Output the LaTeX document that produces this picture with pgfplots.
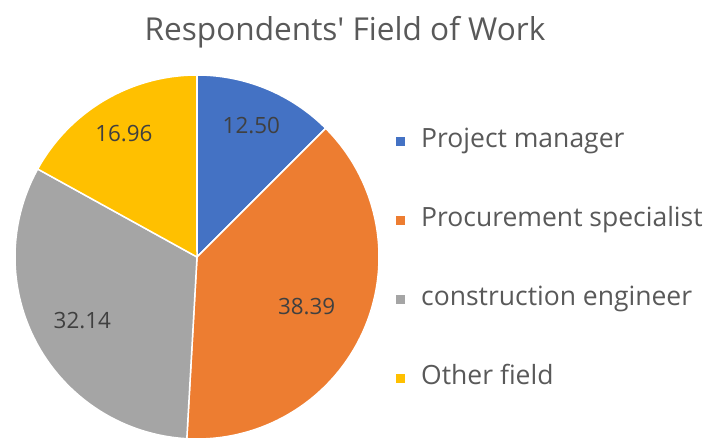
\documentclass[border=0pt]{standalone}
\usepackage{pgfplots}
\usepackage{pgfplotstable}
\pgfplotsset{compat=1.18}
\usepackage{fontspec}
\setmainfont{Open Sans}
\definecolor{cBlue}{HTML}{4472C4}
\definecolor{cOrange}{HTML}{ED7D31}
\definecolor{cGray}{HTML}{A5A5A5}
\definecolor{cYellow}{HTML}{FFC000}
\definecolor{cText}{HTML}{595959}
\definecolor{cLabel}{HTML}{404040}

% share (%) of each field, clockwise from 12 o'clock; lr = label radius (fraction of pie radius)
\pgfplotstableread{
idx value lr
0 12.50 0.78
1 38.39 0.66
2 32.14 0.72
3 16.96 0.79
}\pietable

\newcommand\getv[3]{\pgfplotstablegetelem{#1}{#2}\of\pietable\global\let#3\pgfplotsretval}
\getv{0}{value}\vA \getv{1}{value}\vB \getv{2}{value}\vC \getv{3}{value}\vD
\getv{0}{lr}\rA \getv{1}{lr}\rB \getv{2}{lr}\rC \getv{3}{lr}\rD
\pgfmathsetmacro\aA{90}
\pgfmathsetmacro\aB{\aA-3.6*\vA}
\pgfmathsetmacro\aC{\aB-3.6*\vB}
\pgfmathsetmacro\aD{\aC-3.6*\vC}
\pgfmathsetmacro\aE{\aD-3.6*\vD}
\pgfmathsetmacro\mA{(\aA+\aB)/2}
\pgfmathsetmacro\mB{(\aB+\aC)/2}
\pgfmathsetmacro\mC{(\aC+\aD)/2}
\pgfmathsetmacro\mD{(\aD+\aE)/2}
\def\cx{197}\def\cy{182}\def\R{182}

\begin{document}
\begin{tikzpicture}
\begin{axis}[
  scale only axis, width=706bp, height=439bp,
  xmin=0, xmax=706, ymin=0, ymax=439,
  hide axis, clip=false,
  legend image code/.code={\fill[#1,draw=none] (0bp,-4.5bp) rectangle (9bp,4.5bp);},
  legend style={at={(axis cs:396,310)}, anchor=north west, draw=none, fill=none,
    font=\fontsize{26.6}{31}\selectfont, text=cText, row sep=55bp, inner sep=0pt,
    cells={anchor=west},
    nodes={inner sep=0pt, text height=18bp, text depth=6bp},
    /tikz/every odd column/.append style={column sep=16bp}},
]
\addplot[fill=cBlue, draw=white, line width=1.5bp, domain=\aB:\aA, samples=60, variable=\t]
  ({\cx+\R*cos(\t)},{\cy+\R*sin(\t)}) -- (\cx,\cy) -- cycle;
\addlegendentry{Project manager}
\addplot[fill=cOrange, draw=white, line width=1.5bp, domain=\aC:\aB, samples=100, variable=\t]
  ({\cx+\R*cos(\t)},{\cy+\R*sin(\t)}) -- (\cx,\cy) -- cycle;
\addlegendentry{Procurement specialist}
\addplot[fill=cGray, draw=white, line width=1.5bp, domain=\aD:\aC, samples=100, variable=\t]
  ({\cx+\R*cos(\t)},{\cy+\R*sin(\t)}) -- (\cx,\cy) -- cycle;
\addlegendentry{construction engineer}
\addplot[fill=cYellow, draw=white, line width=1.5bp, domain=\aE:\aD, samples=60, variable=\t]
  ({\cx+\R*cos(\t)},{\cy+\R*sin(\t)}) -- (\cx,\cy) -- cycle;
\addlegendentry{Other field}

\node[font=\fontsize{22.5}{27}\selectfont, text=cLabel] at (axis cs:{\cx+\R*\rA*cos(\mA)},{\cy+\R*\rA*sin(\mA)}) {\vA};
\node[font=\fontsize{22.5}{27}\selectfont, text=cLabel] at (axis cs:{\cx+\R*\rB*cos(\mB)},{\cy+\R*\rB*sin(\mB)}) {\vB};
\node[font=\fontsize{22.5}{27}\selectfont, text=cLabel] at (axis cs:{\cx+\R*\rC*cos(\mC)},{\cy+\R*\rC*sin(\mC)}) {\vC};
\node[font=\fontsize{22.5}{27}\selectfont, text=cLabel] at (axis cs:{\cx+\R*\rD*cos(\mD)},{\cy+\R*\rD*sin(\mD)}) {\vD};

\node[font=\fontsize{31.7}{37}\selectfont, text=cText] at (axis cs:345,407) {Respondents\textquotesingle{} Field of Work};
\coordinate (BL) at (axis cs:0,0);
\coordinate (TR) at (axis cs:706,439);
\end{axis}
\pgfresetboundingbox
\useasboundingbox (BL) rectangle (TR);
\end{tikzpicture}
\end{document}
